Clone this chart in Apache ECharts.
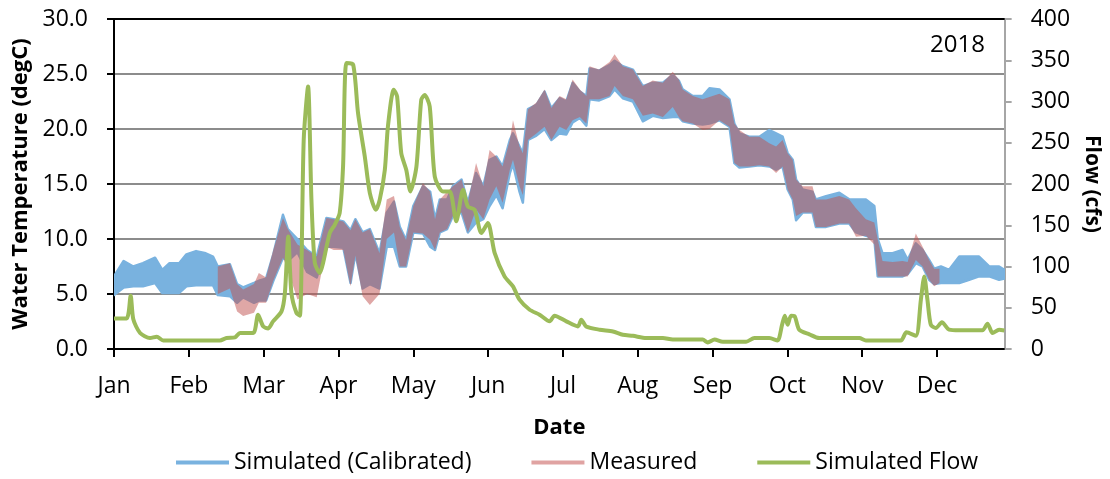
<!DOCTYPE html>
<html><head><meta charset="utf-8">
<script src="https://cdn.jsdelivr.net/npm/echarts@6/dist/echarts.min.js"></script>
<style>html,body{margin:0;padding:0;background:#fff}#c{width:1110px;height:479px}</style>
</head><body><div id="c"></div>
<script>
// Month tick labels and their day-of-year positions (Excel date axis, 31-day major unit)
const monthLabels = ['Jan','Feb','Mar','Apr','May','Jun','Jul','Aug','Sep','Oct','Nov','Dec'];
const monthTickDays = [0,31,62,93,124,155,186,217,248,279,310,341];

// Simulated (Calibrated) water temperature band (daily min / max, degC)
const simDays = [0,4,8,12,17,20,23,27,30,34,38,41,43,48,51,53.5,58,60,63,66,70,72,76,80,84,88,91,95,98,100,103,106,110,113,116,118.4,121,124,128,131,133,135,138,140.4,144,146.6,150,153,155.6,158.4,161,164,165.3,168,169.4,171.5,175,178.4,181.2,184.6,187.4,190,193,195.7,197,201,205.3,207.4,210.8,215,219.1,223.2,227.4,231.5,234,235.6,239.8,243.9,246.7,250.8,255,257,259.1,263.2,267.4,271.5,274.3,277,279.1,281.2,282.6,285.3,289.4,290.8,295,300.5,304.6,307.4,311.5,315,316.4,318.4,322.6,326.7,328.8,332.2,335,337.7,339.8,342.6,346,350.2,354.3,358.4,362.6,366.7,368.9];
const simLow  = [4.9,5.6,5.7,5.7,6.0,5.1,5.1,5.1,5.7,5.8,5.8,5.8,4.9,4.8,4.2,4.7,4.2,4.4,4.4,6.2,8.3,8.0,8.8,7.0,6.5,9.3,9.3,9.2,6.0,8.7,5.5,5.9,5.5,9.3,9.3,7.5,7.5,10.6,10.5,9.3,9.0,10.6,10.9,12.1,12.4,10.6,11.5,11.8,13.0,14.0,12.8,16.0,16.8,14.3,13.3,19.0,19.4,20.0,19.0,19.6,19.5,20.6,21.0,20.3,22.7,22.6,23.0,23.6,22.8,22.5,20.7,21.2,21.0,21.1,21.1,20.7,20.5,20.4,20.5,20.8,20.2,16.9,16.5,16.6,16.7,16.6,16.3,16.6,14.5,13.6,11.7,12.4,12.4,11.1,11.1,11.4,11.4,10.6,10.3,10.0,6.6,6.6,6.6,6.6,6.8,7.8,7.5,6.3,5.9,6.0,6.0,6.0,6.3,6.6,6.6,6.3,6.4];
const simHigh = [6.6,8.0,7.5,7.8,8.3,7.2,7.8,7.8,8.6,8.9,8.7,8.4,7.5,7.7,5.9,5.6,6.0,6.2,6.4,8.6,12.2,10.9,10.0,9.0,8.4,11.9,11.8,11.6,10.8,11.8,10.6,10.9,8.7,12.4,13.4,11.1,9.9,13.0,14.8,14.3,11.8,13.6,13.6,14.8,15.4,13.3,16.0,14.8,17.2,17.5,16.6,19.0,19.6,18.4,17.8,21.8,22.2,23.4,21.9,22.8,22.5,24.2,23.4,23.0,25.5,25.3,25.8,26.2,25.7,25.4,23.9,24.2,24.2,24.9,24.4,23.6,23.0,23.0,23.7,23.6,22.7,20.5,19.6,19.3,19.3,19.9,19.6,19.3,17.8,17.2,15.4,14.5,14.3,13.6,13.9,14.2,13.6,13.6,13.6,13.0,10.0,8.7,8.7,9.0,8.1,9.6,9.0,8.1,7.3,7.5,7.2,8.4,8.4,8.4,7.5,7.5,7.2];

// Measured water temperature band (daily min / max, degC)
const measDays = [43,48,51,53.5,58,60,63,66,70,72,76,80,84,88,91,95,98,100,103,106,110,113,116,118.4,121,124,128,131,133,135,138,140.4,144,146.6,150,153,155.6,158.4,161,164,165.3,168,169.4,171.5,175,178.4,181.2,184.6,187.4,190,193,195.7,197,201,205.3,207.4,210.8,215,219.1,223.2,227.4,231.5,234,235.6,239.8,243.9,246.7,250.8,255,257,259.1,263.2,267.4,271.5,274.3,277,279.1,281.2,282.6,285.3,289.4,290.8,295,300.5,304.6,307.4,311.5,315,316.4,318.4,322.6,326.7,328.8,332.2,335,337.7,339.8,342];
const measLow  = [5.0,5.5,3.4,3.0,3.3,4.2,4.2,6.2,8.3,7.2,4.5,5.0,4.7,9.3,9.0,9.0,5.7,8.5,4.8,4.0,5.0,10.0,10.6,7.5,7.5,10.6,10.5,9.9,9.0,10.6,10.9,12.1,12.4,10.6,12.7,11.8,13.6,14.8,13.3,16.3,17.2,14.8,14.0,19.0,19.6,20.2,19.0,20.2,19.9,20.8,21.1,20.5,22.7,22.7,23.0,23.9,23.0,22.7,21.2,21.4,21.1,22.0,21.1,20.7,20.5,19.9,20.0,20.8,20.2,16.9,16.6,16.6,16.7,16.6,16.0,16.6,14.5,13.6,12.1,12.4,12.4,11.1,11.1,11.4,11.4,10.2,10.3,9.5,6.6,6.6,6.6,6.6,6.6,8.1,7.5,6.3,5.7,6.0];
const measHigh = [7.5,7.8,5.9,5.4,5.9,6.9,6.5,9.0,11.9,10.9,9.5,9.0,8.4,11.9,11.8,11.6,10.8,11.8,10.6,10.9,8.7,13.6,13.9,11.1,9.9,13.0,15.1,14.3,11.8,13.6,14.3,14.8,15.4,13.3,16.9,14.8,18.1,17.5,16.6,19.0,20.8,18.4,17.8,21.8,22.4,23.6,21.9,23.0,22.7,24.5,23.6,23.0,25.7,25.4,26.1,26.8,25.7,25.4,23.9,24.4,24.2,25.2,24.5,23.6,23.0,22.7,22.9,23.2,22.7,20.5,19.9,19.3,19.3,18.7,18.4,19.0,17.8,17.2,15.4,14.8,14.8,13.6,13.6,13.9,13.6,12.8,11.8,11.5,10.0,8.0,7.9,8.0,7.9,10.5,9.3,8.1,7.3,7.3];

// Simulated flow (cfs)
const flowDays = [0,5.2,6.9,8,10.8,14.9,17.7,20.4,43.9,46.6,50.1,52.2,57.7,59.7,61.8,63.9,65.9,69.4,70.8,72.2,73.5,75.6,77,78.6,80.4,81.8,83.2,85.3,86.6,89.4,91.5,93.5,94.9,96.3,99.1,101.1,103.9,106,108.5,110.1,112.2,113.5,115.9,117.3,119,121.1,122.8,125.3,127.3,128.7,130.8,132.9,136.3,139.1,141.8,144.6,146.6,149.4,152.2,154.9,157.7,161.8,165.3,168,172.2,176.3,180.5,182.5,187.4,192.2,193.6,195.6,201.2,206.7,210.8,215,220.5,227.4,231.5,243.9,246,248.8,252.2,261.9,265.3,271.5,274.9,276.8,277.9,279.1,280.5,281.9,283.9,288.1,292.2,308.8,311.5,326,328.3,332.2,334.3,335.7,337,338.4,340.5,343,346,350.2,359.8,361.9,364,366.7,368.9];
const flowValues = [37,37,64.6,36,19.4,13.3,15,10.4,10.4,13.3,14,19.4,19.4,41.6,27.4,25,33.5,45.6,67.9,136.5,67.9,43.6,40.4,253.7,318.3,181,104.2,92.1,104,140.6,150.7,164.8,221.3,346.7,344.6,286,233.4,189,168.8,181,217,270,314.3,306,237.6,217,191,221.3,302,308,294,209,191,191,154.7,193,172.8,168.8,140.6,152.7,116.4,88,75.9,59.8,47.6,41.6,33.5,40.4,33.5,27.4,35.5,27.4,23.4,21.3,17.3,16,13.3,13.3,11.4,11.4,8.0,11.4,8.8,8.8,13.3,13.3,10.4,29.5,40.4,29.5,40.4,40,23.4,17.8,13.3,13.3,10.4,10.4,20.2,16,59.8,88,60,29.5,25.4,32.3,23.4,22.6,22.6,30.7,19.4,23.4,22.5];

const FONT = 'Open Sans';
const SIM_COLOR = '#79b2df';
const MEAS_COLOR = 'rgba(192,80,77,0.5)';
const FLOW_COLOR = '#9bbb59';

const pairs = (xs, ys) => xs.map((d, i) => [d, ys[i]]);
const triples = (xs, lo, hi) => xs.map((d, i) => [d, lo[i], hi[i]]);

// Band drawn as one polygon: upper edge forward, lower edge backward, via the cartesian scales.
function bandRenderer(days, lo, hi, fill, stroke, width) {
  return function (params, api) {
    if (params.dataIndex !== 0) return null;
    const pts = [];
    for (let i = 0; i < days.length; i++) pts.push(api.coord([days[i], hi[i]]));
    for (let i = days.length - 1; i >= 0; i--) pts.push(api.coord([days[i], lo[i]]));
    return {
      type: 'polygon',
      shape: {points: pts},
      style: stroke ? {fill: fill, stroke: stroke, lineWidth: width, lineJoin: 'round'} : {fill: fill}
    };
  };
}

const chart = echarts.init(document.getElementById('c'), null, {renderer: 'canvas'});
chart.setOption({
  animation: false,
  backgroundColor: '#fff',
  textStyle: {fontFamily: FONT, color: '#000'},
  title: {text: '2018', right: 125, top: 33, padding: 0,
          textStyle: {fontFamily: FONT, fontSize: 24, fontWeight: 'normal', color: '#000'}},
  grid: {left: 114, right: 105, top: 19, bottom: 130, containLabel: false},
  legend: {
    left: 176, top: 451, padding: 0, itemWidth: 53, itemHeight: 4, itemGap: 60,
    textStyle: {fontFamily: FONT, fontSize: 23, color: '#000'},
    data: [
      {name: 'Simulated (Calibrated)', icon: 'rect', itemStyle: {color: SIM_COLOR}},
      {name: 'Measured', icon: 'rect', itemStyle: {color: '#e0a3a2'}},
      {name: 'Simulated Flow', icon: 'rect', itemStyle: {color: FLOW_COLOR}}
    ]
  },
  xAxis: [{
    type: 'value', min: 0, max: 369, position: 'bottom',
    name: 'Date', nameLocation: 'middle', nameGap: 68,
    nameTextStyle: {fontFamily: FONT, fontSize: 22, fontWeight: 'bold', color: '#000'},
    axisLine: {show: true, onZero: false, lineStyle: {color: '#000', width: 2}},
    axisTick: {show: true, length: 8, inside: false, customValues: monthTickDays, lineStyle: {color: '#000', width: 2}},
    axisLabel: {margin: 26, fontFamily: FONT, fontSize: 23, color: '#000', customValues: monthTickDays,
                formatter: v => monthLabels[monthTickDays.indexOf(v)] || ''},
    splitLine: {show: false}
  }, {
    type: 'value', min: 0, max: 369, position: 'top',
    axisLine: {show: true, onZero: false, lineStyle: {color: '#000', width: 2}},
    axisTick: {show: false}, axisLabel: {show: false}, splitLine: {show: false}
  }],
  yAxis: [{
    type: 'value', min: 0, max: 30, interval: 5, position: 'left',
    name: 'Water Temperature (degC)', nameLocation: 'middle', nameGap: 78, nameRotate: 90,
    nameTextStyle: {fontFamily: FONT, fontSize: 22, fontWeight: 'bold', color: '#000'},
    axisLine: {show: true, onZero: false, lineStyle: {color: '#000', width: 2}},
    axisTick: {show: true, length: 7, lineStyle: {color: '#000', width: 2}},
    axisLabel: {margin: 26, fontFamily: FONT, fontSize: 23, color: '#000', formatter: v => v.toFixed(1)},
    splitLine: {show: true, lineStyle: {color: '#8c8c8c', width: 2}}
  }, {
    type: 'value', min: 0, max: 400, interval: 50, position: 'right',
    name: 'Flow (cfs)', nameLocation: 'middle', nameGap: 74, nameRotate: -90,
    nameTextStyle: {fontFamily: FONT, fontSize: 21, fontWeight: 'bold', color: '#000'},
    axisLine: {show: true, onZero: false, lineStyle: {color: '#a6a6a6', width: 2}},
    axisTick: {show: true, length: 7, lineStyle: {color: '#a6a6a6', width: 2}},
    axisLabel: {margin: 26, fontFamily: FONT, fontSize: 23, color: '#000'},
    splitLine: {show: false}
  }],
  series: [
    {type: 'custom', name: 'Simulated (Calibrated)', coordinateSystem: 'cartesian2d',
     xAxisIndex: 0, yAxisIndex: 0, itemStyle: {color: SIM_COLOR}, encode: {x: 0, y: [1, 2]},
     data: triples(simDays, simLow, simHigh),
     renderItem: bandRenderer(simDays, simLow, simHigh, SIM_COLOR, SIM_COLOR, 2.5), z: 2, clip: true},
    {type: 'custom', name: 'Measured', coordinateSystem: 'cartesian2d',
     xAxisIndex: 0, yAxisIndex: 0, itemStyle: {color: MEAS_COLOR}, encode: {x: 0, y: [1, 2]},
     data: triples(measDays, measLow, measHigh),
     renderItem: bandRenderer(measDays, measLow, measHigh, MEAS_COLOR, null, 0), z: 3, clip: true},
    {type: 'line', name: 'Simulated Flow', xAxisIndex: 0, yAxisIndex: 1, symbol: 'none', smooth: 0.25,
     color: FLOW_COLOR, data: pairs(flowDays, flowValues),
     lineStyle: {color: FLOW_COLOR, width: 4}, z: 4}
  ]
});
</script></body></html>
